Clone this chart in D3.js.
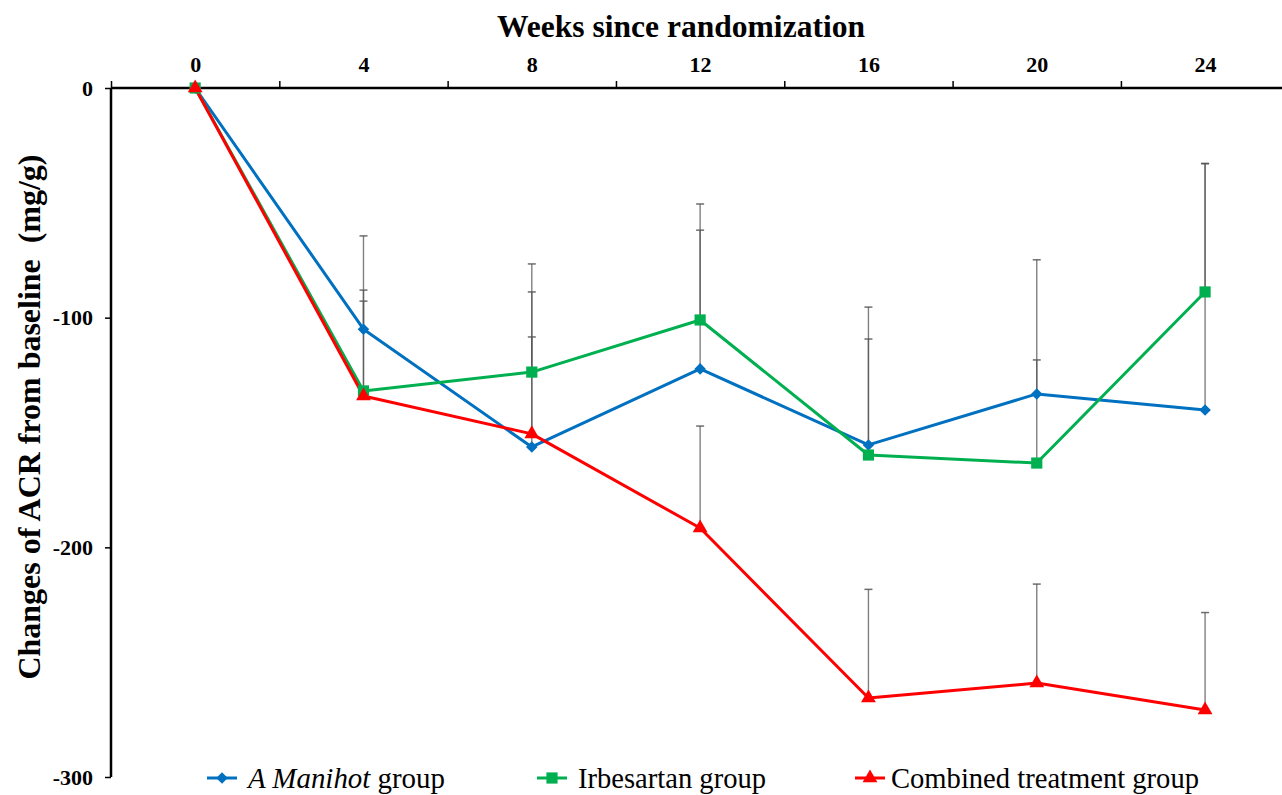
<!DOCTYPE html>
<html>
<head>
<meta charset="utf-8">
<script src="https://cdn.jsdelivr.net/npm/d3@7"></script>
<style>
  html, body { margin: 0; padding: 0; background: #fff; }
  svg { display: block; }
  text { font-family: "Liberation Serif", "Times New Roman", serif; }
</style>
</head>
<body>
<svg id="chart" width="1282" height="795"></svg>
<script>
// ---- data ----
const weeks = [0, 4, 8, 12, 16, 20, 24];
const weekTickLabels = ["0", "4", "8", "12", "16", "20", "24"];
const yTickValues = [0, -100, -200, -300];
const yTickLabels = ["0", "-100", "-200", "-300"];
const seriesNames = ["A Manihot group", "Irbesartan group", "Combined treatment group"];

const manihotMean  = [0, -105.0, -156.3, -122.3, -155.4, -133.2, -140.2];
const manihotUpper = [0,  -88.0,  -88.8,  -61.9,  -95.4,  -74.8,  -32.9];
const irbesartanMean  = [0, -131.9, -123.7, -101.0, -159.8, -163.3, -88.8];
const irbesartanUpper = [0,  -64.4,  -76.6,  -50.5, -109.3, -118.4, -32.9];
const combinedMean  = [0, -134.1, -150.6, -191.6, -265.6, -259.1, -270.8];
const combinedUpper = [0,  -92.8, -108.4, -147.2, -218.3, -216.0, -228.4];

// ---- layout ----
const svg = d3.select("#chart");
const x = d3.scaleLinear().domain([-2, 26]).range([111, 111 + 28 * 42.08]);
const y = d3.scaleLinear().domain([-300, 0]).range([777, 88]);

const series = [
  { name: seriesNames[0], mean: manihotMean, upper: manihotUpper, color: "#0070C0", shape: d3.symbolDiamond2, size: 85 },
  { name: seriesNames[1], mean: irbesartanMean, upper: irbesartanUpper, color: "#00B050", shape: d3.symbolSquare, size: 125 },
  { name: seriesNames[2], mean: combinedMean, upper: combinedUpper, color: "#FF0000", shape: d3.symbolTriangle, size: 95 }
];

// error bars (behind)
const eb = svg.append("g");
series.forEach(s => {
  weeks.forEach((w, i) => {
    if (s.upper[i] === s.mean[i]) return;
    eb.append("line")
      .attr("x1", x(w)).attr("x2", x(w))
      .attr("y1", y(s.mean[i])).attr("y2", y(s.upper[i]))
      .attr("stroke", "#555").attr("stroke-opacity", 0.75).attr("stroke-width", 1.4);
    eb.append("line")
      .attr("x1", x(w) - 4).attr("x2", x(w) + 4)
      .attr("y1", y(s.upper[i])).attr("y2", y(s.upper[i]))
      .attr("stroke", "#555").attr("stroke-opacity", 0.85).attr("stroke-width", 1.5);
  });
});

// axes
const xTickAxis = d3.axisTop(x)
  .tickValues([-2, 2, 6, 10, 14, 18, 22, 26])
  .tickSize(7).tickFormat("");
const gx = svg.append("g").attr("transform", `translate(0,${y(0)})`).call(xTickAxis);
gx.select(".domain").attr("d", `M${x(-2)},0H${x(26)}`).attr("stroke", "#000").attr("stroke-width", 2.5);
gx.selectAll(".tick line").attr("stroke", "#000").attr("stroke-width", 1.5);

const xLabelAxis = d3.axisTop(x).tickValues(weeks).tickSize(0).tickPadding(16)
  .tickFormat((d, i) => weekTickLabels[i]);
const gxl = svg.append("g").attr("transform", `translate(0,${y(0)})`).call(xLabelAxis);
gxl.select(".domain").remove();
gxl.selectAll("text").attr("font-weight", "bold").attr("font-size", 22).attr("fill", "#000");

const yAxis = d3.axisLeft(y).tickValues(yTickValues).tickSize(6).tickPadding(12)
  .tickFormat((d, i) => yTickLabels[i]);
const gy = svg.append("g").attr("transform", `translate(${x(-2)},0)`).call(yAxis);
gy.select(".domain").attr("d", `M0,${y(0)}V${y(-300)}`).attr("stroke", "#000").attr("stroke-width", 2.5);
gy.selectAll(".tick line").attr("stroke", "#000").attr("stroke-width", 1.5);
gy.selectAll("text").attr("font-weight", "bold").attr("font-size", 22).attr("fill", "#000");

// lines and markers
const line = d3.line().x((d, i) => x(weeks[i])).y(d => y(d));
series.forEach(s => {
  svg.append("path").datum(s.mean).attr("d", line)
    .attr("fill", "none").attr("stroke", s.color).attr("stroke-width", 3)
    .attr("stroke-linejoin", "round");
});
series.forEach(s => {
  svg.append("g").selectAll("path").data(s.mean).join("path")
    .attr("transform", (d, i) => `translate(${x(weeks[i])},${y(d)})`)
    .attr("d", d3.symbol().type(s.shape).size(s.size))
    .attr("fill", s.color);
});

// title
svg.append("text").attr("x", 681).attr("y", 37).attr("text-anchor", "middle")
  .attr("font-weight", "bold").attr("font-size", 31)
  .attr("textLength", 368).attr("lengthAdjust", "spacingAndGlyphs")
  .text("Weeks since randomization");

// y label
svg.append("text").attr("transform", "translate(40,417) rotate(-90)")
  .attr("text-anchor", "middle").attr("font-weight", "bold").attr("font-size", 32)
  .attr("textLength", 525).attr("lengthAdjust", "spacingAndGlyphs")
  .text("Changes of ACR from baseline\u00a0 (mg/g)");

// legend
const legendPos = [
  { lx: 207, tx: 248, tw: 197 },
  { lx: 537, tx: 578, tw: 188 },
  { lx: 855, tx: 891, tw: 308 }
];
const ly = 778;
series.forEach((s, i) => {
  const p = legendPos[i];
  svg.append("line").attr("x1", p.lx).attr("x2", p.lx + 30).attr("y1", ly).attr("y2", ly)
    .attr("stroke", s.color).attr("stroke-width", 3);
  svg.append("path").attr("transform", `translate(${p.lx + 15},${ly})`)
    .attr("d", d3.symbol().type(s.shape).size(s.size)).attr("fill", s.color);
  const t = svg.append("text").attr("x", p.tx).attr("y", ly + 10)
    .attr("font-size", 30).attr("textLength", p.tw).attr("lengthAdjust", "spacingAndGlyphs");
  if (i === 0) {
    t.append("tspan").attr("font-style", "italic").text("A Manihot");
    t.append("tspan").text(" group");
  } else {
    t.text(s.name);
  }
});
</script>
</body>
</html>
